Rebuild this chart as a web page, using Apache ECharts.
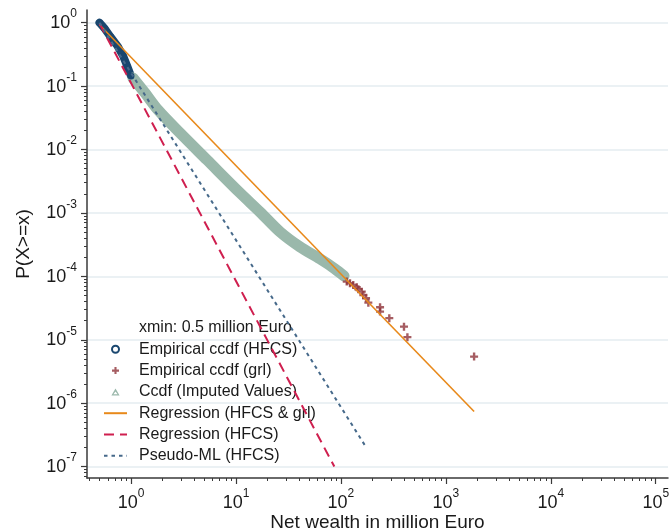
<!DOCTYPE html>
<html><head><meta charset="utf-8">
<script src="https://cdn.jsdelivr.net/npm/echarts@6/dist/echarts.min.js"></script>
<style>html,body{margin:0;padding:0;background:#fff}#c{width:671px;height:530px}</style>
</head><body><div id="c"></div>
<script>
// ---- data ----
const hfcsX = [0.5, 0.564, 0.636, 0.75, 0.846, 0.924, 0.998];
const hfcsP = [1.0, 0.796, 0.601, 0.418, 0.291, 0.202, 0.1445];
const grlX = [113.6, 122, 131, 141.5, 146.5, 158, 163.5, 173.5, 182.5, 236, 236, 289, 399, 430, 1858];
const grlP = [8.26e-5, 7.79e-5, 7.32e-5, 6.73e-5, 6.26e-5, 5.74e-5, 5.09e-5, 4.52e-5, 3.85e-5, 3.26e-5, 2.78e-5, 2.19e-5, 1.61e-5, 1.10e-5, 5.42e-6];
const impX = [1.043, 1.357, 1.805, 2.925, 5.29, 10.92, 16.93, 26.27, 40.74, 63.2, 87.85, 107.1];
const impP = [0.1343, 0.0779, 0.04203, 0.01825, 0.00685, 0.002066, 0.001036, 5.02e-4, 2.91e-4, 1.88e-4, 1.31e-4, 1.015e-4];
const regAllX = [0.5, 1858];
const regAllP = [0.93, 7.4e-7];
const regHfcsX = [0.5, 86.5];
const regHfcsP = [0.97, 1.0e-7];
const pmlX = [0.5, 176];
const pmlP = [1.0, 1.95e-7];
const xMajor = [1, 10, 100, 1000, 10000, 100000];
const yMajor = [1, 0.1, 0.01, 0.001, 1e-4, 1e-5, 1e-6, 1e-7];
const legendNote = 'xmin: 0.5 million Euro';
const names = ['Empirical ccdf (HFCS)', 'Empirical ccdf (grl)', 'Ccdf (Imputed Values)',
  'Regression (HFCS & grl)', 'Regression (HFCS)', 'Pseudo-ML (HFCS)'];

// ---- axis ranges ----
const xMin = Math.pow(10, -0.42), xMax = Math.pow(10, 5.117);
const yMin = Math.pow(10, -7.18), yMax = Math.pow(10, 0.2);
function minors(lo, hi, e0, e1) {
  const out = [];
  for (let e = e0; e <= e1; e++) for (let m = 2; m <= 9; m++) {
    const v = m * Math.pow(10, e);
    if (v > lo && v < hi) out.push(v);
  }
  return out;
}
const xMinor = minors(xMin, xMax, -1, 5);
const yMinor = minors(yMin, yMax, -8, 0);

const pairs = (xs, ys) => xs.map((x, i) => [x, ys[i]]);
const FONT = 'Liberation Sans, Arial, sans-serif';
const TXT = '#1a1a1a';
const fmt = v => '{b|10}{s|' + Math.round(Math.log10(v)) + '}';
const rich = {
  b: { fontSize: 18, lineHeight: 24, verticalAlign: 'bottom', color: TXT, fontFamily: FONT },
  s: { fontSize: 12, lineHeight: 24, verticalAlign: 'top', color: TXT, fontFamily: FONT }
};
const AX = '#3a3a3a';
const plusPath = 'path://M3.5,0H6.5V3.5H10V6.5H6.5V10H3.5V6.5H0V3.5H3.5Z';
const triIcon = 'path://M0,0M23,7M11.5,-0.5L16,7.2L7,7.2ZM11.5,2.8L9.2,6L13.8,6Z';
const hideSym = { opacity: 0 };

const chart = echarts.init(document.getElementById('c'), null, { renderer: 'canvas' });
chart.setOption({
  animation: false,
  backgroundColor: '#fff',
  grid: { left: 87, right: 3, top: 10, bottom: 52, containLabel: false, outerBoundsMode: 'none' },
  legend: {
    orient: 'vertical', left: 103, top: 320, padding: 0,
    itemWidth: 23, itemHeight: 7, itemGap: 5.3,
    selectedMode: false,
    textStyle: { fontSize: 16, color: TXT, fontFamily: FONT, padding: [0, 0, 0, 7] },
    data: [
      { name: legendNote, icon: 'none' },
      { name: names[0], icon: 'emptyCircle' },
      { name: names[1], icon: plusPath },
      { name: names[2], icon: triIcon },
      { name: names[3], itemStyle: hideSym },
      { name: names[4], itemStyle: hideSym },
      { name: names[5], itemStyle: hideSym }
    ]
  },
  xAxis: [
    {
      type: 'log', min: xMin, max: xMax, position: 'bottom',
      name: 'Net wealth in million Euro', nameLocation: 'middle', nameGap: 35,
      nameMoveOverlap: false,
      nameTextStyle: { fontSize: 19, color: TXT, fontFamily: FONT },
      axisLine: { show: true, lineStyle: { color: AX, width: 1.5 } },
      axisTick: { show: true, customValues: xMajor, length: 6, lineStyle: { color: AX, width: 1.2 } },
      axisLabel: { customValues: xMajor, margin: 10, formatter: fmt, rich: rich },
      splitLine: { show: false }, minorTick: { show: false }
    },
    {
      type: 'log', min: xMin, max: xMax, position: 'bottom',
      axisLine: { show: false },
      axisTick: { show: true, customValues: xMinor, length: 3, lineStyle: { color: AX, width: 1 } },
      axisLabel: { show: false }, splitLine: { show: false }
    }
  ],
  yAxis: [
    {
      type: 'log', min: yMin, max: yMax, position: 'left',
      name: 'P(X>=x)', nameLocation: 'middle', nameGap: 54,
      nameMoveOverlap: false,
      nameTextStyle: { fontSize: 19, color: TXT, fontFamily: FONT },
      axisLine: { show: true, lineStyle: { color: AX, width: 1.5 } },
      axisTick: { show: true, customValues: yMajor, length: 6, lineStyle: { color: AX, width: 1.2 } },
      axisLabel: { customValues: yMajor, margin: 10, formatter: fmt, rich: rich, padding: [0, 0, 5, 0] },
      splitLine: { show: true, lineStyle: { color: '#e4edf0', width: 1.5 } },
      minorTick: { show: false }
    },
    {
      type: 'log', min: yMin, max: yMax, position: 'left',
      axisLine: { show: false },
      axisTick: { show: true, customValues: yMinor, length: 3, lineStyle: { color: AX, width: 1 } },
      axisLabel: { show: false }, splitLine: { show: false }
    }
  ],
  series: [
    { name: legendNote, type: 'line', data: [], xAxisIndex: 0, yAxisIndex: 0, symbol: 'none' },
    {
      name: names[0], type: 'line', data: pairs(hfcsX, hfcsP), xAxisIndex: 0, yAxisIndex: 0,
      symbol: 'circle', symbolSize: 7, showSymbol: true, color: '#1a476f',
      itemStyle: { color: '#1a476f' },
      lineStyle: { color: '#1a476f', width: 8, cap: 'round', join: 'round' }, z: 2
    },
    {
      name: names[1], type: 'scatter', data: pairs(grlX, grlP), xAxisIndex: 0, yAxisIndex: 0,
      symbol: plusPath, symbolSize: 8, color: '#90353b', itemStyle: { color: '#90353b' }, z: 3
    },
    {
      name: names[2], type: 'line', data: pairs(impX, impP), xAxisIndex: 0, yAxisIndex: 0,
      symbol: 'none', smooth: 0.3, color: '#9ab8ab',
      itemStyle: { color: '#9ab8ab' },
      lineStyle: { color: '#9ab8ab', width: 11, cap: 'round', join: 'round' }, z: 2
    },
    {
      name: names[3], type: 'line', data: pairs(regAllX, regAllP), xAxisIndex: 0, yAxisIndex: 0,
      symbol: 'none', color: '#e8891a', lineStyle: { color: '#e8891a', width: 1.6 }, z: 4
    },
    {
      name: names[4], type: 'line', data: pairs(regHfcsX, regHfcsP), xAxisIndex: 0, yAxisIndex: 0,
      symbol: 'none', color: '#cf1f4f', lineStyle: { color: '#cf1f4f', width: 2, type: [10, 6] }, z: 4
    },
    {
      name: names[5], type: 'line', data: pairs(pmlX, pmlP), xAxisIndex: 0, yAxisIndex: 0,
      symbol: 'none', color: '#46698a', lineStyle: { color: '#46698a', width: 2, type: [3.5, 4] }, z: 4
    }
  ]
});
</script></body></html>
